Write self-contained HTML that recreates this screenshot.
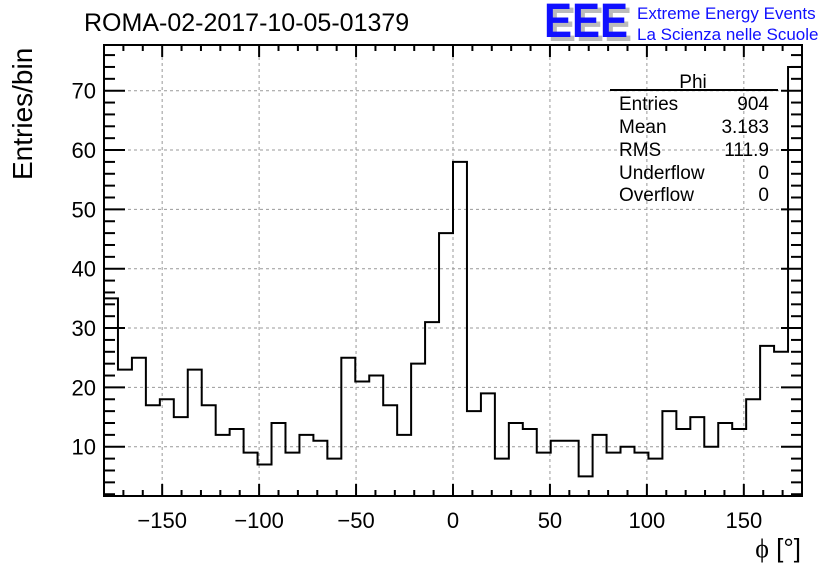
<!DOCTYPE html>
<html><head><meta charset="utf-8"><style>
body{margin:0;background:#fff;}
svg{display:block;font-family:"Liberation Sans",sans-serif;}
</style></head><body>
<svg id="chart" width="836" height="572">
<rect width="836" height="572" fill="#fff"/>
<g id="grid"></g>
<g id="ticks"></g>
<path id="hist" fill="none" stroke="#000" stroke-width="2"/>
<rect x="104" y="45" width="698" height="451" fill="none" stroke="#000" stroke-width="2"/>
<text x="84" y="31" font-size="25">ROMA-02-2017-10-05-01379</text>
<g>
<text x="548" y="41" font-size="48" fill="#bbb" font-weight="bold" textLength="84" lengthAdjust="spacingAndGlyphs">EEE</text>
<text x="544" y="37" font-size="48" fill="#1010ff" font-weight="bold" textLength="84" lengthAdjust="spacingAndGlyphs">EEE</text>
<text x="637" y="19" font-size="17" fill="#1010ff">Extreme Energy Events</text>
<text x="637" y="40" font-size="17" fill="#1010ff">La Scienza nelle Scuole</text>
</g>
<g font-size="19">
<text x="693" y="88" text-anchor="middle">Phi</text>
<line x1="610" y1="90" x2="778" y2="90" stroke="#000" stroke-width="2"/>
<text x="619" y="110">Entries</text><text x="769" y="110" text-anchor="end">904</text>
<text x="619" y="133">Mean</text><text x="769" y="133" text-anchor="end">3.183</text>
<text x="619" y="156">RMS</text><text x="769" y="156" text-anchor="end">111.9</text>
<text x="619" y="179">Underflow</text><text x="769" y="179" text-anchor="end">0</text>
<text x="619" y="201">Overflow</text><text x="769" y="201" text-anchor="end">0</text>
</g>
<text transform="translate(32,180) rotate(-90)" font-size="28">Entries/bin</text>
<text x="801" y="557" font-size="26" text-anchor="end"><tspan font-family="Liberation Serif, serif">ϕ</tspan> [°]</text>
<g id="labels" font-size="22"></g>
</svg>
<script>
const binValues = [35,23,25,17,18,15,23,17,12,13,9,7,14,9,12,11,8,25,21,22,17,12,24,31,46,58,16,19,8,14,13,9,11,11,5,12,9,10,9,8,16,13,15,10,14,13,18,27,26,74];
const xRange = [-180, 180];
const yRange = [1.7, 77.7];
const xTickLabels = [-150,-100,-50,0,50,100,150];
const yTickLabels = [10,20,30,40,50,60,70];

const L=104,R=802,T=45,B=496;
const xs=v=>L+(v-xRange[0])/(xRange[1]-xRange[0])*(R-L);
const ys=v=>B-(v-yRange[0])/(yRange[1]-yRange[0])*(B-T);
const NS="http://www.w3.org/2000/svg";
function mk(tag,attrs,parent){const e=document.createElementNS(NS,tag);for(const k in attrs)e.setAttribute(k,attrs[k]);parent.appendChild(e);return e;}
const grid=document.getElementById('grid'),ticks=document.getElementById('ticks'),labels=document.getElementById('labels');
xTickLabels.forEach(v=>{
  const g=mk('line',{x1:xs(v),x2:xs(v),y1:T,y2:B,stroke:'#999','stroke-dasharray':'3,3','stroke-width':1},grid);
  
  
  const t=mk('text',{x:xs(v),y:528,'text-anchor':'middle'},labels);
  t.textContent=(v<0?'\u2212'+(-v):v);
  
  
});
yTickLabels.forEach(v=>{
  const g=mk('line',{x1:L,x2:R,y1:ys(v),y2:ys(v),stroke:'#999','stroke-dasharray':'3,3','stroke-width':1},grid);
  
  
  const t=mk('text',{x:96,y:ys(v)+8,'text-anchor':'end'},labels);
  t.textContent=v;
  
  
});
for(let v=-170;v<=170;v+=10){
  const len=(v%50===0)?12:6;
  mk('line',{x1:xs(v),x2:xs(v),y1:B,y2:B-len,stroke:'#000','stroke-width':2},ticks);
  mk('line',{x1:xs(v),x2:xs(v),y1:T,y2:T+len,stroke:'#000','stroke-width':2},ticks);
}
for(let v=2;v<=76;v+=2){
  const len=(v%10===0)?21:11;
  mk('line',{x1:L,x2:L+len,y1:ys(v),y2:ys(v),stroke:'#000','stroke-width':2},ticks);
  mk('line',{x1:R,x2:R-len,y1:ys(v),y2:ys(v),stroke:'#000','stroke-width':2},ticks);
}
const w=(xRange[1]-xRange[0])/binValues.length;
let d='M'+xs(xRange[0])+','+B;
binValues.forEach((v,i)=>{
  const x0=xs(xRange[0]+i*w),x1=xs(xRange[0]+(i+1)*w);
  d+=' L'+x0+','+ys(v)+' L'+x1+','+ys(v);
});
d+=' L'+xs(xRange[1])+','+B;
document.getElementById('hist').setAttribute('d',d);
</script>
</body></html>
